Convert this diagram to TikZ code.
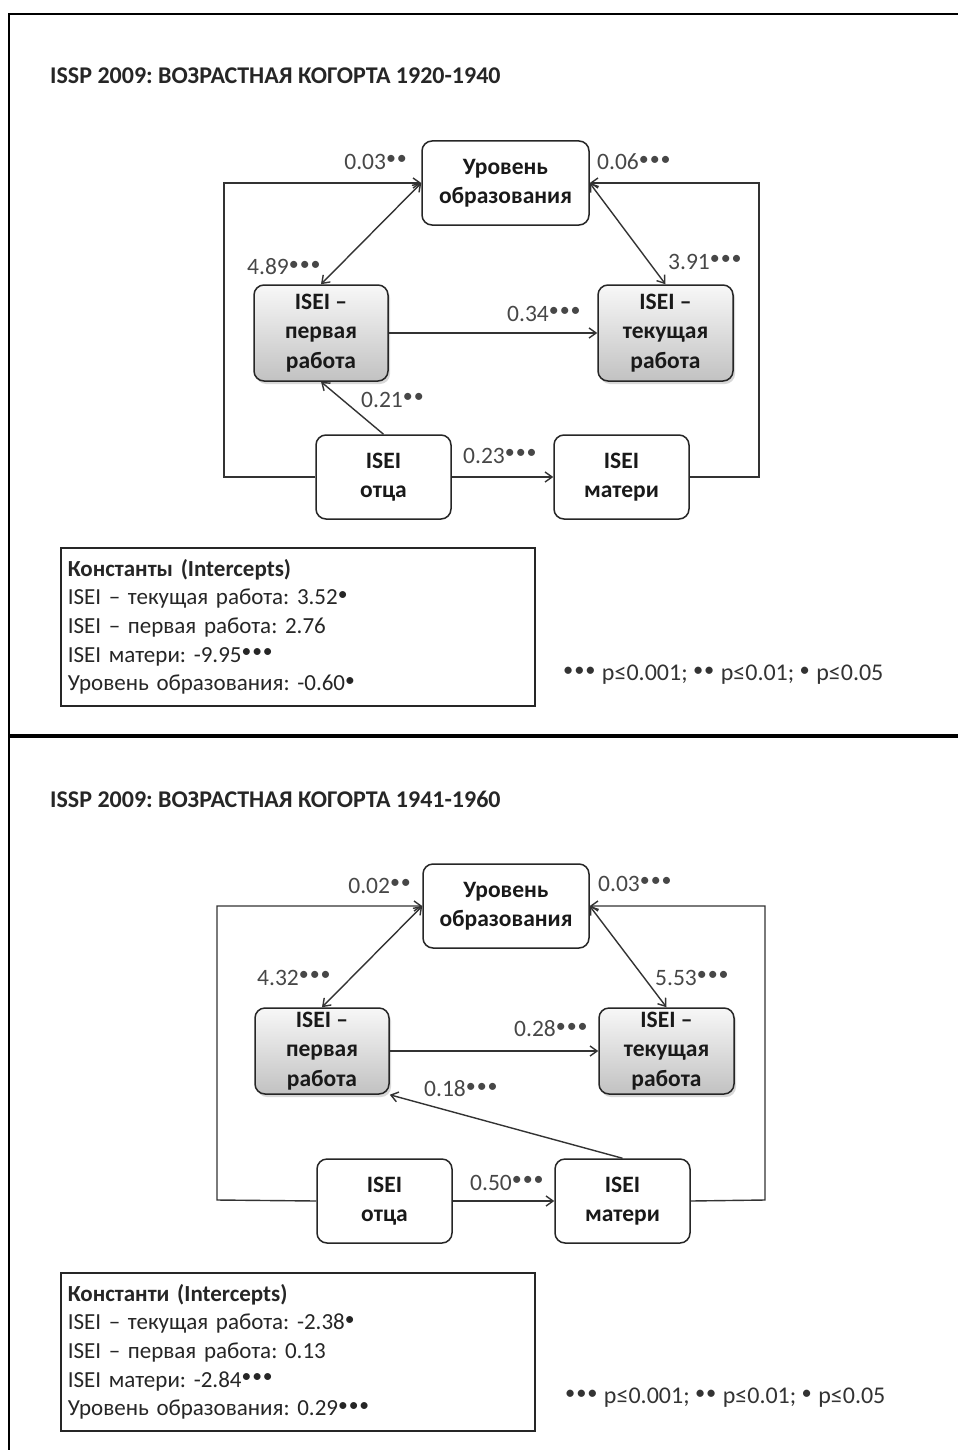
\documentclass[tikz,border=0pt]{standalone}
\usepackage{graphicx}
\usepackage{fontspec}
\setmainfont{Carlito}
\frenchspacing
\usetikzlibrary{arrows.meta,shadows}
\newcommand\stp{\raisebox{0.2em}{\scalebox{0.85}{•}}\kern0.04em}
\newcommand\oneS{\stp}
\newcommand\twoS{\stp\stp}
\newcommand\threeS{\stp\stp\stp}
\tikzset{
  bx/.style={draw=black!85, line width=1.5pt, rounded corners=10pt, fill=white, align=center,
    font=\fontsize{23.5}{29.5}\selectfont\bfseries, text=black!90, inner sep=0pt},
  gbx/.style={bx, top color=gray!6, bottom color=gray!48,
    drop shadow={shadow xshift=2pt, shadow yshift=-3pt, opacity=0.3}},
  lab/.style={font=\fontsize{23.5}{26}\selectfont, text=black!72, inner sep=0pt},
  conn/.style={draw=black!80, line width=1.4pt, -{Straight Barb[length=7pt,width=10pt,line width=1.4pt]}},
  dconn/.style={draw=black!80, line width=1.4pt, {Straight Barb[length=7pt,width=10pt,line width=1.4pt]}-{Straight Barb[length=7pt,width=10pt,line width=1.4pt]}},
  ttl/.style={font=\fontsize{24}{28}\selectfont\bfseries, text=black!85, inner sep=0pt, anchor=west},
  leg/.style={draw=black!85, line width=1.5pt, fill=white, anchor=north west, align=left,
    text width=460pt, inner xsep=7pt, inner ysep=0pt, font=\fontsize{23}{28.7}\selectfont, text=black!85,
    drop shadow={shadow xshift=1.5pt, shadow yshift=-1.5pt, opacity=0.5}},
  foot/.style={font=\fontsize{24}{26}\selectfont, text=black!80, inner sep=0pt, anchor=west}
}
\begin{document}
\begin{tikzpicture}[x=1pt,y=-1pt]
\useasboundingbox (0,0) rectangle (958,1450);
\fill[white] (0,0) rectangle (958,1450);
% frame
\draw[line width=2.5pt] (9,1450) -- (9,14) -- (958,14);
\draw[line width=4pt] (8,736) -- (958,736);

% ===== panel 1 =====
\node[ttl] (t1) at (50,76) {ISSP 2009: ВОЗРАСТНАЯ КОГОРТА 1920-1940};
\node[bx, minimum width=167pt, minimum height=84pt] (edu1) at (505.5,183) {Уровень\\образования};
\node[gbx, minimum width=134pt, minimum height=96pt] (fst1) at (321,333) {ISEI –\\первая\\работа};
\node[gbx, minimum width=135pt, minimum height=96pt] (cur1) at (665.5,333) {ISEI –\\текущая\\работа};
\node[bx, minimum width=135pt, minimum height=84pt] (fa1) at (383.5,477) {ISEI\\отца};
\node[bx, minimum width=135pt, minimum height=84pt] (mo1) at (621.5,477) {ISEI\\матери};
\coordinate (lc1) at (224,477);
\coordinate (rc1) at (759,477);
\draw[conn] (fa1.west) -- (lc1) |- (edu1.west);
\draw[conn] (mo1.east) -- (rc1) |- (edu1.east);
\draw[dconn] (edu1.west) -- (fst1.north);
\draw[dconn] (edu1.east) -- (cur1.north);
\draw[conn] (fst1.east) -- (cur1.west);
\draw[conn] (fa1.north) -- (fst1.south);
\draw[conn] (fa1.east) -- (mo1.west);
\node[lab, anchor=east] (a1) at (408,162) {0.03\twoS};
\node[lab, anchor=west] (b1) at (597,162) {0.06\threeS};
\node[lab, anchor=west] (c1) at (247,267) {4.89\threeS};
\node[lab, anchor=west] (d1) at (668,262) {3.91\threeS};
\node[lab, anchor=west] (e1) at (507,314) {0.34\threeS};
\node[lab, anchor=west] (f1) at (361,400) {0.21\twoS};
\node[lab, anchor=west] (g1) at (463,456) {0.23\threeS};
\node[leg, minimum height=158pt] (lg1) at (60,547) {\textbf{Константы (Intercepts)}\\
ISEI – текущая работа: 3.52\oneS\\
ISEI – первая работа:\ 2.76\\
ISEI матери: -9.95\threeS\\
Уровень образования:\ -0.60\oneS};
\node[foot] (n1) at (563,675) {\threeS\ p≤0.001; \twoS\ p≤0.01;\ \oneS\ p≤0.05};

% ===== panel 2 =====
\node[ttl] (t2) at (50,799) {ISSP 2009: ВОЗРАСТНАЯ КОГОРТА 1941-1960};
\node[bx, minimum width=166pt, minimum height=84pt] (edu2) at (506,906) {Уровень\\образования};
\node[gbx, minimum width=134pt, minimum height=86pt] (fst2) at (322,1051) {ISEI –\\первая\\работа};
\node[gbx, minimum width=135pt, minimum height=86pt] (cur2) at (666.5,1051) {ISEI –\\текущая\\работа};
\node[bx, minimum width=135pt, minimum height=84pt] (fa2) at (384.5,1201) {ISEI\\отца};
\node[bx, minimum width=135pt, minimum height=84pt] (mo2) at (622.5,1201) {ISEI\\матери};
\coordinate (lc2) at (217,1200);
\coordinate (rc2) at (765,1200);
\draw[conn] (fa2.west) -- (lc2) |- (edu2.west);
\draw[conn] (mo2.east) -- (rc2) |- (edu2.east);
\draw[dconn] (edu2.west) -- (fst2.north);
\draw[dconn] (edu2.east) -- (cur2.north);
\draw[conn] (fst2.east) -- (cur2.west);
\draw[conn] (mo2.north) -- (fst2.south east);
\draw[conn] (fa2.east) -- (mo2.west);
\node[lab, anchor=east] (a2) at (412,886) {0.02\twoS};
\node[lab, anchor=west] (b2) at (598,884) {0.03\threeS};
\node[lab, anchor=west] (c2) at (257,978) {4.32\threeS};
\node[lab, anchor=west] (d2) at (655,978) {5.53\threeS};
\node[lab, anchor=west] (e2) at (514,1029) {0.28\threeS};
\node[lab, anchor=west] (f2) at (424,1089) {0.18\threeS};
\node[lab, anchor=west] (g2) at (470,1183) {0.50\threeS};
\node[leg, minimum height=158pt] (lg2) at (60,1272) {\textbf{Константи (Intercepts)}\\
ISEI – текущая работа: -2.38\oneS\\
ISEI – первая работа: 0.13\\
ISEI матери: -2.84\threeS\\
Уровень образования: 0.29\threeS};
\node[foot] (n2) at (565,1398) {\threeS\ p≤0.001; \twoS\ p≤0.01;\ \oneS\ p≤0.05};
\end{tikzpicture}
\end{document}
